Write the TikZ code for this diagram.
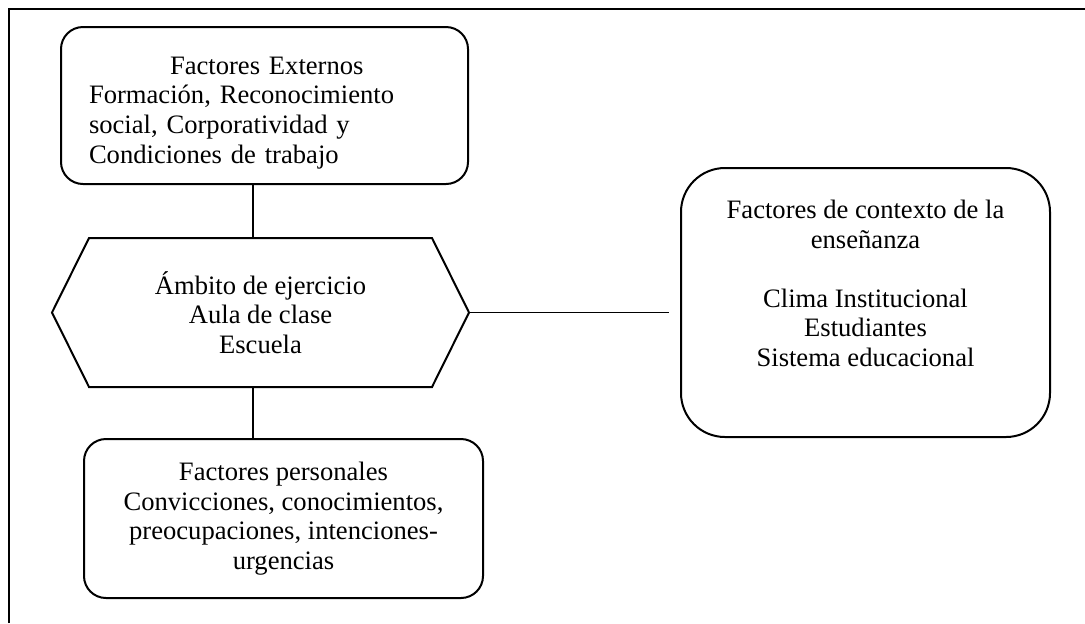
\documentclass[tikz,border=0pt]{standalone}
\usepackage{fontspec}
\setmainfont{Liberation Serif}
\tikzset{
    factorbox/.style={draw, line width=1pt, rounded corners=11pt, align=center,
        font=\fontsize{13.3}{14.8}\selectfont, inner sep=0pt},
    link/.style={line width=0.8pt},
}
\begin{document}
\begin{tikzpicture}[x=0.5pt, y=-0.5pt]
    \useasboundingbox (0,0) rectangle (1085,623);
    \draw[line width=1pt] (9,623) -- (9,9) -- (1085,9);
    \node[factorbox, minimum width=203.5pt, minimum height=78.5pt, align=left,
        text width=175.5pt] (ext) at (264.5,105.5)
        {\rule{0pt}{16pt}\hspace*{40.5pt}Factores Externos\\ Formación, Reconocimiento\\
         social, Corporatividad y\\ Condiciones de trabajo};
    \node[factorbox, draw=none, minimum width=207.5pt, minimum height=73.5pt] (hex) at (260.5,312.5)
        {Ámbito de ejercicio\\ Aula de clase\\ Escuela};
    \draw[line width=1pt] (hex.west) -- ([xshift=18.5pt]hex.north west) -- ([xshift=-18.5pt]hex.north east)
        -- (hex.east) -- ([xshift=-18.5pt]hex.south east) -- ([xshift=18.5pt]hex.south west) -- cycle;
    \node[factorbox, minimum width=199.5pt, minimum height=79.5pt] (pers) at (283.5,518.5)
        {Factores personales\\ Convicciones, conocimientos,\\ preocupaciones, intenciones-\\ urgencias};
    \node[factorbox, rounded corners=22pt, minimum width=184.5pt, minimum height=134.5pt] (ctx) at (865.5,302.5)
        {Factores de contexto de la\\ enseñanza\\[14.8pt] Clima Institucional\\ Estudiantes\\ Sistema educacional\\ \strut};
    \coordinate (spine) at (253,312);
    \draw[link] (ext.south -| spine) -- (hex.north -| spine);
    \draw[link] (hex.south -| spine) -- (pers.north -| spine);
    \draw[link, shorten >=5.5pt] (hex.east) -- (ctx.west |- hex.east);
\end{tikzpicture}
\end{document}
